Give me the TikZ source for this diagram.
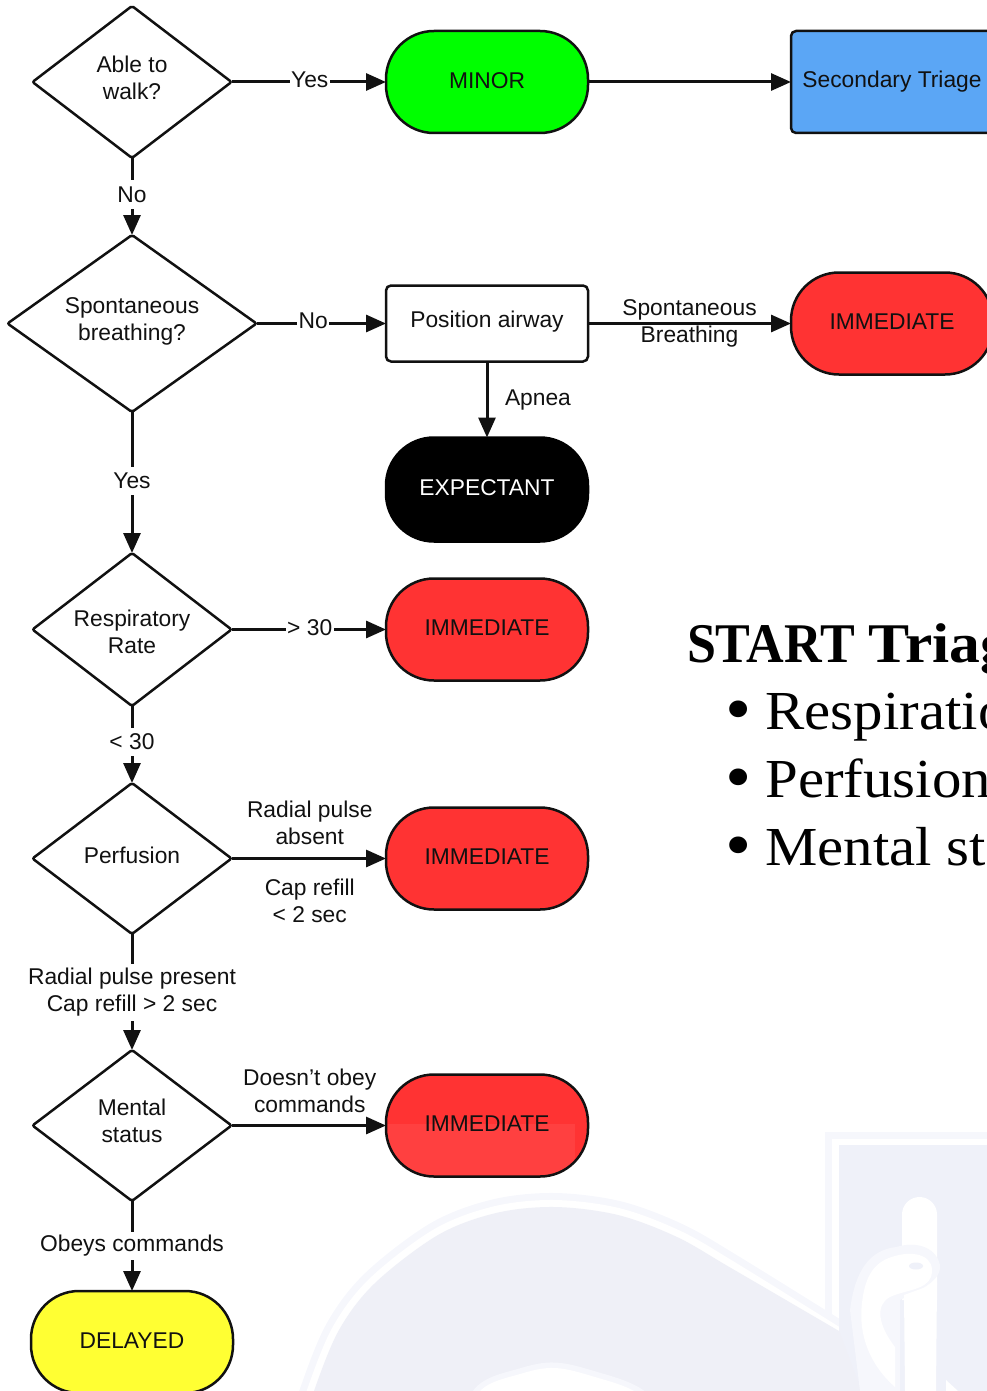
\documentclass[tikz,border=0pt]{standalone}
\usepackage{fontspec}
\setmainfont{Liberation Sans}
\newfontfamily\titlefont[FakeStretch=0.93]{Liberation Serif}
\newfontfamily\titlewide[FakeStretch=1.1]{Liberation Serif}
\newfontfamily\listfont[FakeStretch=1.07]{Liberation Serif}
\newcommand\lift[1]{\rule[-#1pt]{0pt}{0pt}}
\usetikzlibrary{shapes.geometric,arrows.meta}
\definecolor{wmark}{HTML}{EFF0F7}
\definecolor{wpanel}{HTML}{EFF1F9}
\definecolor{wlight}{HTML}{F6F7FC}
\definecolor{ink}{HTML}{111111}
\definecolor{redfill}{HTML}{FF3333}
\definecolor{redlow}{HTML}{FF4040}
\definecolor{greenfill}{HTML}{00FF00}
\definecolor{bluefill}{HTML}{5BA6F5}
\definecolor{yellowfill}{HTML}{FFFF33}
\tikzset{
  every node/.style={font=\fontsize{22.8}{27}\selectfont,text=ink,outer sep=0pt,align=center},
  decision/.style={diamond,draw=ink,fill=white,line width=2.5pt,inner sep=0pt,aspect=1.31,rounded corners=2pt},
  terminal/.style={rectangle,draw=ink,line width=2.5pt,rounded corners=48pt,minimum width=202pt,minimum height=102pt,inner sep=0pt,text depth=3pt},
  boxnode/.style={rectangle,draw=ink,line width=2.5pt,rounded corners=5pt,minimum width=202pt,inner sep=0pt},
  link/.style={draw=ink,line width=3pt,-{Triangle[length=20pt,width=17pt]}},
  edgelabel/.style={fill=white,inner sep=1.5pt,minimum height=28pt},
  plainlabel/.style={inner sep=0pt},
  titletext/.style={font=\titlefont\bfseries\fontsize{56}{60}\selectfont,text=black,anchor=base west,align=left,inner sep=0pt},
  listtext/.style={font=\listfont\fontsize{55}{60}\selectfont,text=black,anchor=base west,align=left,inner sep=0pt},
  listbullet/.style={font=\listfont\fontsize{70}{70}\selectfont,text=black,anchor=base,inner sep=0pt},
}
\begin{document}
\begin{tikzpicture}[x=1pt,y=-1pt]
\useasboundingbox (0,0) rectangle (987,1391);
\clip (0,0) rectangle (987,1391);
% watermark
\draw[wlight,line width=7pt] (828.5,1135.5) -- (987,1135.5);
\draw[wlight,line width=7pt] (828.5,1132) -- (828.5,1318);
\draw[wlight,line width=28pt] plot[smooth,tension=.55] coordinates {(300,1440) (314,1391) (339,1330) (375,1283) (438,1235) (496,1213) (555,1207) (618,1215) (677,1237) (731,1268) (839,1335)};
\draw[white,line width=14pt] plot[smooth,tension=.55] coordinates {(300,1440) (314,1391) (339,1330) (375,1283) (438,1235) (496,1213) (555,1207) (618,1215) (677,1237) (731,1268) (839,1335)};
\fill[wpanel] (839,1145) rectangle (987,1391);
\fill[wmark] plot[smooth,tension=.55] coordinates {(300,1440) (314,1391) (339,1330) (375,1283) (438,1235) (496,1213) (555,1207) (618,1215) (677,1237) (731,1268) (839,1331)} -- (880,1440) -- cycle;
\draw[wlight,line width=11pt] plot[smooth,tension=.6] coordinates {(460,1430) (481,1390) (520,1374) (555,1368) (595,1377) (636,1392) (670,1420)};
\fill[white] plot[smooth,tension=.6] coordinates {(460,1430) (481,1390) (520,1374) (555,1368) (595,1377) (636,1392) (670,1420)} -- cycle;
% staff and snake
\fill[white] (902,1300) -- (902,1214.5) arc[start angle=180,end angle=360,radius=17.5] -- (937,1300) -- cycle;
\fill[wlight] (896,1247) .. controls (920,1240) and (937,1250) .. (940,1265) .. controls (942,1282) and (915,1292) .. (900,1300) -- (900,1391) -- (860,1391) -- (850,1310) .. controls (855,1270) and (870,1250) .. (896,1247) -- cycle;
\fill[white] (895,1256) .. controls (915,1250) and (937,1256) .. (931,1277) .. controls (926,1290) and (905,1290) .. (890,1297) .. controls (875,1305) and (878,1325) .. (895,1347) -- (895,1387) .. controls (870,1365) and (858,1335) .. (862,1303) .. controls (865,1275) and (875,1261) .. (895,1256) -- cycle;
\fill[white] (904,1295) -- (937,1283) -- (936,1391) -- (905,1391) -- cycle;
\fill[wpanel] (916,1266) ellipse[x radius=7pt,y radius=3.5pt];
\fill[white] (946,1380) -- (958,1391) -- (946,1391) -- cycle;
% decisions
\node[decision,minimum width=199pt,minimum height=152pt] (walk) at (132,82) {Able to\\walk?\lift{8}};
\node[decision,minimum width=249pt,minimum height=177pt] (breath) at (132,323.5) {Spontaneous\\breathing?\lift{8}};
\node[decision,minimum width=199pt,minimum height=153pt] (resp) at (132,629.5) {\rule{0pt}{21pt}Respiratory\\Rate};
\node[decision,minimum width=199pt,minimum height=151pt] (perf) at (132,858.5) {Perfusion\lift{6}};
\node[decision,minimum width=199pt,minimum height=151pt] (mental) at (132,1125.5) {Mental\\status\lift{10}};
% terminals
\node[terminal,fill=greenfill] (minor) at (487,82) {MINOR};
\node[terminal,fill=redfill] (imm1) at (892,323.5) {IMMEDIATE};
\node[boxnode,fill=bluefill,minimum height=102pt] (second) at (892,82) {Secondary Triage};
\node[boxnode,fill=white,minimum height=76pt,text depth=8pt] (airway) at (487,323.5) {Position airway};
\node[terminal,draw=black,fill=black,text=white,minimum height=104pt] (expect) at (487,489.5) {EXPECTANT};
\node[terminal,fill=redfill] (imm2) at (487,629.5) {IMMEDIATE};
\node[terminal,fill=redfill] (imm3) at (487,858.5) {IMMEDIATE};
\node[terminal,fill=redfill,path picture={\fill[redlow,sharp corners] (-150,-8) rectangle (150,100);}] (imm4) at (487,1125.5) {IMMEDIATE};
\node[terminal,fill=yellowfill] (delayed) at (132,1342) {DELAYED};
% connectors
\draw[link] (walk.east) -- node[edgelabel,yshift=2.5pt,xshift=1pt] {Yes} (minor.west);
\draw[link] (minor.east) -- (second.west);
\draw[link] (walk.south) -- node[edgelabel,yshift=2pt] {No} (breath.north);
\draw[link] (breath.east) -- node[edgelabel,pos=.43,yshift=3pt,xshift=1pt] {No} (airway.west);
\draw[link] (airway.east) -- node[plainlabel] {Spontaneous\\Breathing} (imm1.west);
\draw[link] (airway.south) -- node[plainlabel,right=18pt,yshift=-1pt] {Apnea} (expect.north);
\draw[link] (breath.south) -- node[edgelabel,yshift=2pt] {Yes} (resp.north);
\draw[link] (resp.east) -- node[edgelabel,yshift=2pt,xshift=1pt] {> 30} (imm2.west);
\draw[link] (resp.south) -- node[edgelabel,yshift=3pt] {< 30} (perf.north);
\draw[link] (perf.east) -- node[plainlabel,above=14pt,xshift=1pt] {Radial pulse\\absent} node[plainlabel,below=20pt,xshift=1pt] {Cap refill\\< 2 sec} (imm3.west);
\draw[link] (perf.south) -- node[edgelabel,minimum height=57pt] {Radial pulse present\\Cap refill > 2 sec} (mental.north);
\draw[link] (mental.east) -- node[plainlabel,above=13pt,xshift=1pt] {Doesn't obey\\commands} (imm4.west);
\draw[link] (mental.south) -- node[edgelabel] {Obeys commands} (delayed.north);
% slide text
\node[titletext] (title) at (687,662) {START\hspace{14pt}{\titlewide Triage}};
\node[listbullet] (b1) at (739,732) {•};
\node[listtext] (t1) at (765.5,729) {Respiration};
\node[listbullet] (b2) at (739,800) {•};
\node[listtext] (t2) at (765.5,797) {Perfusion};
\node[listbullet] (b3) at (739,868) {•};
\node[listtext] (t3) at (765.5,865) {Mental status};
\end{tikzpicture}
\end{document}
